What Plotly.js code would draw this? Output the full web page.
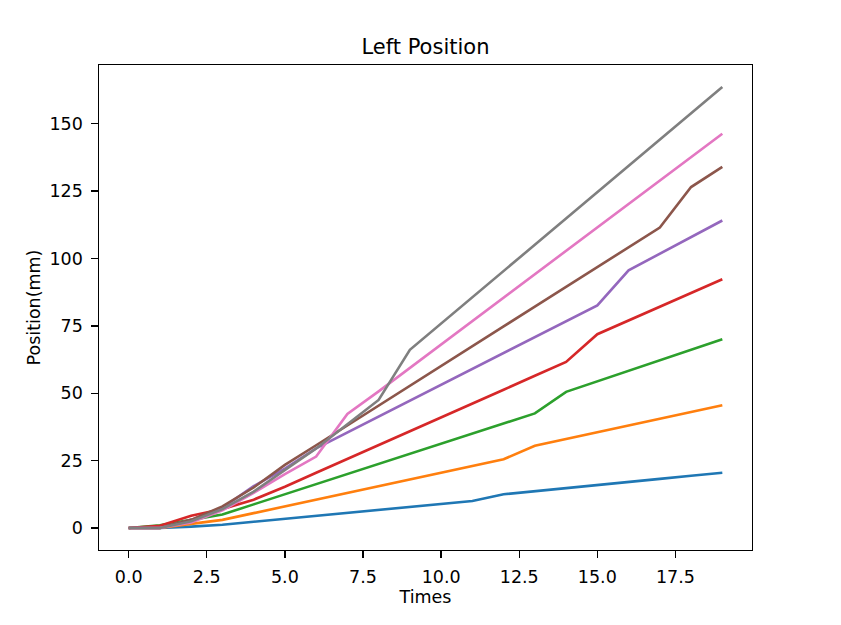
<!DOCTYPE html>
<html>
<head>
<meta charset="utf-8">
<script src="https://cdn.plot.ly/plotly-3.0.1.min.js"></script>
<style>html,body{margin:0;padding:0;background:#fff;}#chart{width:841px;height:625px;}</style>
</head>
<body>
<div id="chart"></div>
<script>
const times = [0,1,2,3,4,5,6,7,8,9,10,11,12,13,14,15,16,17,18,19];
const s1 = [0,0,0.5,1.2,2.3,3.4,4.5,5.6,6.7,7.8,8.9,10.0,12.5,13.6,14.8,15.9,17.1,18.2,19.4,20.5];
const s2 = [0,0,1.5,3,5.5,8,10.5,13,15.5,18,20.5,23,25.5,30.5,33,35.5,38,40.5,43,45.5];
const s3 = [0,1,3,5,8.75,12.5,16.25,20,23.75,27.5,31.25,35,38.75,42.5,50.5,54.4,58.3,62.2,66.1,70];
const s4 = [0,0.8,4.5,7,10.5,15.3,20.5,25.6,30.8,35.9,41.0,46.2,51.3,56.5,61.6,71.9,77.0,82.1,87.2,92.3];
const s5 = [0,0,3,7.5,15.5,22,29.5,35.4,41.3,47.2,53.1,59,64.9,70.8,76.7,82.6,95.6,101.8,107.9,114.1];
const s6 = [0,0,3,8,15,23.4,30.7,38.1,45.4,52.8,60.1,67.5,74.8,82.1,89.5,96.8,104.2,111.5,126.5,134];
const s7 = [0,0,2,6.5,13,20,26.5,42.3,50.7,59.4,68.1,76.8,85.4,94.1,102.8,111.5,120.2,128.9,137.6,146.3];
const s8 = [0,0,2.5,7,13.5,21.5,29.5,38.5,47.5,66.1,75.85,85.6,95.35,105.1,114.85,124.6,134.35,144.1,153.85,163.6];
const seriesList = [s1,s2,s3,s4,s5,s6,s7,s8];
const colors = ['#1f77b4','#ff7f0e','#2ca02c','#d62728','#9467bd','#8c564b','#e377c2','#7f7f7f'];
const xTickVals = [0,2.5,5,7.5,10,12.5,15,17.5];
const yTickVals = [0,25,50,75,100,125,150];

const traces = seriesList.map((ys, i) => ({
  x: times, y: ys, type: 'scatter', mode: 'lines',
  line: {color: colors[i], width: 2.6}, showlegend: false, hoverinfo: 'skip'
}));

const font = {family: 'DejaVu Sans, sans-serif', size: 17.5, color: '#000'};
const layout = {
  width: 841, height: 625,
  margin: {l: 99, r: 89, t: 65, b: 75, pad: 0},
  paper_bgcolor: '#fff', plot_bgcolor: '#fff',
  font: font,
  title: {text: 'Left Position', font: {family: 'DejaVu Sans, sans-serif', size: 21, color: '#000'},
          x: 0.5, xref: 'paper', xanchor: 'center', y: 1 - 47/625, yref: 'container', yanchor: 'middle'},
  xaxis: {
    range: [-0.95, 19.95], tickvals: xTickVals, ticktext: xTickVals.map(v => v.toFixed(1)),
    showgrid: false, zeroline: false, showline: true, mirror: true, linecolor: '#000', linewidth: 1.3,
    ticks: 'outside', ticklen: 6.4, tickwidth: 1.3, tickcolor: '#000', ticklabelstandoff: 4,
    tickfont: font,
    title: {text: 'Times', font: font, standoff: 5}
  },
  yaxis: {
    range: [-8.18, 171.8], tickvals: yTickVals, ticktext: yTickVals.map(v => String(v)),
    showgrid: false, zeroline: false, showline: true, mirror: true, linecolor: '#000', linewidth: 1.3,
    ticks: 'outside', ticklen: 6.4, tickwidth: 1.3, tickcolor: '#000', ticklabelstandoff: 5,
    tickfont: font,
    title: {text: 'Position(mm)', font: font, standoff: 4}
  }
};
Plotly.newPlot('chart', traces, layout, {displayModeBar: false, staticPlot: true});
</script>
</body>
</html>
